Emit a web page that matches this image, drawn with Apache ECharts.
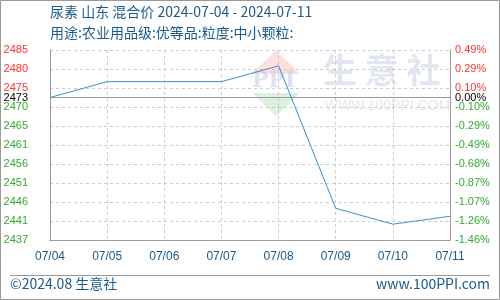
<!DOCTYPE html>
<html>
<head>
<meta charset="utf-8">
<script src="https://cdn.jsdelivr.net/npm/echarts@6/dist/echarts.min.js"></script>
<style>html,body{margin:0;padding:0;background:#fff}#c{width:500px;height:300px}</style>
</head>
<body>
<div id="c"></div>
<script>
var categories = ['07/04','07/05','07/06','07/07','07/08','07/09','07/10','07/11'];
var prices = [2473, 2477, 2477, 2477, 2481, 2445, 2441, 2443];
var baseValue = 2473;
var axisMin = 2437, axisMax = 2485, axisStep = 4.8;
var leftLabels = ['2437','2441','2446','2451','2456','2461','2465','2470','2475','2480','2485'];
var rightLabels = ['-1.46%','-1.26%','-1.07%','-0.87%','-0.68%','-0.49%','-0.29%','-0.10%','0.10%','0.29%','0.49%'];
var baseLeftLabel = '2473', baseRightLabel = '0.00%';
var titleText = '尿素 山东 混合价 2024-07-04 - 2024-07-11';
var subtitleText = '用途:农业用品级:优等品:粒度:中小颗粒:';
var footerLeft = '©2024.08 生意社';
var footerRight = 'www.100PPI.com';

var blue = '#1a5a8c';
var cjk = '"Noto Sans CJK SC", "Noto Sans", sans-serif';
var lat = '"Liberation Sans", Arial, sans-serif';
function idx(v){ return Math.round((v - axisMin) / axisStep); }
function col(v){ return v > baseValue ? '#ff3333' : (v < baseValue ? '#33aa33' : '#000'); }

var chart = echarts.init(document.getElementById('c'), null, {renderer: 'canvas'});
chart.setOption({
  animation: false,
  backgroundColor: '#fff',
  grid: {left: 50, right: 50, top: 50, bottom: 60, containLabel: false},
  xAxis: {
    type: 'category', data: categories, boundaryGap: false,
    axisLine: {show: true, lineStyle: {color: '#999', width: 1}},
    axisTick: {show: false},
    axisLabel: {color: blue, fontSize: 12, fontFamily: lat, margin: 11},
    splitLine: {show: true, lineStyle: {color: '#ccc', type: [3, 3], width: 1}}
  },
  yAxis: [{
    type: 'value', min: axisMin, max: axisMax, interval: axisStep, position: 'left',
    axisLine: {show: true, lineStyle: {color: '#999', width: 1}},
    axisTick: {show: false},
    axisLabel: {fontSize: 11, fontFamily: lat, margin: 22,
      formatter: function(v){ return leftLabels[idx(v)]; },
      color: function(v){ return col(v); }},
    splitLine: {show: true, lineStyle: {color: '#ccc', type: [3, 3], width: 1}}
  }, {
    type: 'value', min: axisMin, max: axisMax, interval: axisStep, position: 'right',
    axisLine: {show: true, lineStyle: {color: '#999', width: 1}},
    axisTick: {show: false},
    axisLabel: {fontSize: 11, fontFamily: lat, margin: 5,
      formatter: function(v){ return rightLabels[idx(v)]; },
      color: function(v){ return col(v); }},
    splitLine: {show: false}
  }],
  series: [{
    type: 'line', data: prices, yAxisIndex: 0, showSymbol: false, symbol: 'none',
    lineStyle: {color: '#3a93d4', width: 1}, z: 5,
    markLine: {
      silent: true, symbol: ['none', 'none'], animation: false,
      lineStyle: {color: '#999', type: 'solid', width: 1},
      data: [
        {yAxis: baseValue, label: {show: true, position: 'start', formatter: baseLeftLabel, color: '#000', fontSize: 11, fontFamily: lat, distance: 22}},
        {yAxis: baseValue, label: {show: true, position: 'end', formatter: baseRightLabel, color: '#000', fontSize: 11, fontFamily: lat, distance: 5}}
      ]
    }
  }],
  graphic: [
    {type: 'rect', shape: {x: 0.5, y: 0.5, width: 499, height: 299}, style: {fill: 'none', stroke: '#999', lineWidth: 1}, z: 0},
    {type: 'text', left: 50, top: 5, style: {text: titleText, font: '14px ' + cjk, fill: blue}},
    {type: 'text', left: 50, top: 26, style: {text: subtitleText, font: '14px ' + cjk, fill: blue}},
    {type: 'line', shape: {x1: 10, y1: 275.5, x2: 490, y2: 275.5}, style: {stroke: '#999', lineWidth: 1}},
    {type: 'text', left: 10, top: 277, style: {text: footerLeft, font: '14px ' + cjk, fill: blue}},
    {type: 'text', right: 10, top: 277, style: {text: footerRight, font: '14px ' + cjk, fill: blue}},
    // watermark
    {type: 'polygon', shape: {points: [[276, 50], [252, 74], [300, 74]]}, style: {fill: 'rgba(240,170,160,0.35)'}, z: 1, silent: true},
    {type: 'polygon', shape: {points: [[252, 93], [300, 93], [276, 116]]}, style: {fill: 'rgba(160,215,160,0.35)'}, z: 1, silent: true},
    {type: 'text', left: 252, top: 70, style: {text: 'PPI', font: 'bold 22px "DejaVu Serif", serif', fill: 'rgba(190,200,225,0.5)'}, z: 1, silent: true},
    {type: 'text', left: 323, top: 53, style: {text: '生 意 社', font: 'bold 34px ' + cjk, fill: 'rgba(205,213,230,0.6)'}, z: 1, silent: true},
    {type: 'text', left: 325, top: 99, style: {text: 'WWW.100PPI.COM', font: '14px ' + lat, fill: 'rgba(215,215,215,0.6)'}, z: 1, silent: true}
  ]
});
</script>
</body>
</html>
